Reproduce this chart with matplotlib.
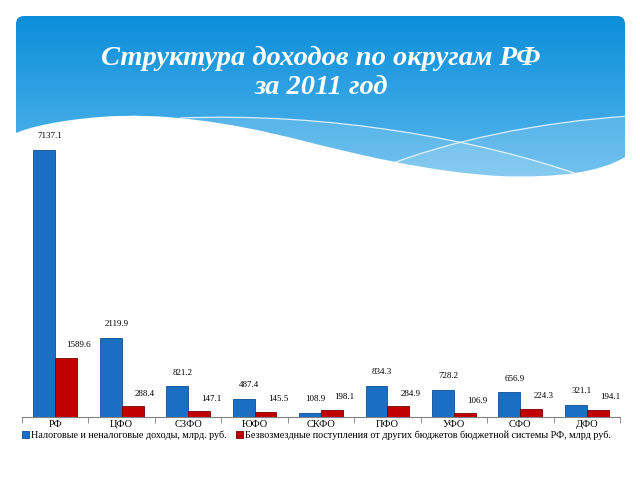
import numpy as np
import matplotlib
matplotlib.use('Agg')
import matplotlib.pyplot as plt
from matplotlib.path import Path
from matplotlib.patches import PathPatch

# data
districts = ['РФ', 'ЦФО', 'СЗФО', 'ЮФО', 'СКФО', 'ПФО', 'УФО', 'СФО', 'ДФО']
tax_income = [7137.1, 2119.9, 821.2, 487.4, 108.9, 834.3, 728.2, 656.9, 321.1]
transfers = [1589.6, 288.4, 147.1, 145.5, 198.1, 284.9, 106.9, 224.3, 194.1]
legend_labels = ['Налоговые и неналоговые доходы, млрд. руб.',
                 'Безвозмездные поступления от других бюджетов бюджетной системы РФ, млрд руб.']
title = 'Структура доходов по округам РФ\nза 2011 год'

W, H = 640, 480
fig = plt.figure(figsize=(6.4, 4.8), dpi=100)
fig.patch.set_facecolor('white')

# background layer in pixel coords (y down)
bg = fig.add_axes([0, 0, 1, 1], zorder=0)
bg.set_xlim(0, W)
bg.set_ylim(H, 0)
bg.axis('off')

# banner outline: rounded top, wavy bottom
verts = [(16, 133), (16, 24), (16, 16), (24, 16), (617, 16), (625, 16), (625, 24),
         (625, 157), (600, 172), (560, 178), (500, 176),
         (430, 172), (360, 155), (300, 140),
         (230, 122), (160, 112), (100, 117),
         (60, 120), (30, 127), (16, 133), (16, 133)]
codes = [Path.MOVETO, Path.LINETO, Path.CURVE3, Path.CURVE3, Path.LINETO, Path.CURVE3, Path.CURVE3,
         Path.LINETO, Path.CURVE4, Path.CURVE4, Path.CURVE4,
         Path.CURVE4, Path.CURVE4, Path.CURVE4,
         Path.CURVE4, Path.CURVE4, Path.CURVE4,
         Path.CURVE4, Path.CURVE4, Path.CURVE4, Path.CLOSEPOLY]
banner = PathPatch(Path(verts, codes), facecolor='none', edgecolor='none', transform=bg.transData)
bg.add_patch(banner)

top_c = np.array([0x0c, 0x8e, 0xda]) / 255
bot_c = np.array([0x5a, 0xb8, 0xed]) / 255
t = np.linspace(0, 1, 256)[:, None, None]
grad = top_c * (1 - t) + bot_c * t
grad = np.repeat(grad, 2, axis=1)
im = bg.imshow(grad, extent=[16, 625, 180, 16], aspect='auto', interpolation='bilinear', zorder=1)
im.set_clip_path(banner)

# lighter waves inside the banner
waveA = Path([(180, 118), (330, 112), (480, 140), (580, 175), (580, 220), (180, 220), (180, 118)],
             [Path.MOVETO, Path.CURVE4, Path.CURVE4, Path.CURVE4, Path.LINETO, Path.LINETO, Path.CLOSEPOLY])
waveB = Path([(380, 168), (450, 140), (540, 122), (630, 116), (630, 220), (380, 220), (380, 168)],
             [Path.MOVETO, Path.CURVE4, Path.CURVE4, Path.CURVE4, Path.LINETO, Path.LINETO, Path.CLOSEPOLY])
for wp in (waveA, waveB):
    p = PathPatch(wp, facecolor='white', alpha=0.15, edgecolor='none', zorder=2)
    bg.add_patch(p)
    p.set_clip_path(banner)
lineA = Path([(180, 118), (330, 112), (480, 140), (580, 175)],
             [Path.MOVETO, Path.CURVE4, Path.CURVE4, Path.CURVE4])
lineB = Path([(380, 168), (450, 140), (540, 122), (630, 116)],
             [Path.MOVETO, Path.CURVE4, Path.CURVE4, Path.CURVE4])
for lp in (lineA, lineB):
    p = PathPatch(lp, facecolor='none', edgecolor='white', lw=0.9, alpha=0.8, zorder=3)
    bg.add_patch(p)
    p.set_clip_path(banner)

bg.text(321, 73, title, ha='center', va='center', color='white', fontsize=20.5,
        family='Liberation Serif', style='italic', weight='bold', linespacing=1.25, zorder=4)

# chart
base_y, top_y, left_x, right_x = 417, 140, 22, 620
ax = fig.add_axes([left_x / W, (H - base_y) / H, (right_x - left_x) / W, (base_y - top_y) / H], zorder=1)
ax.patch.set_alpha(0)
px_per_unit = (base_y - 150) / max(tax_income)
ax.set_ylim(0, (base_y - top_y) / px_per_unit)
ax.set_xlim(-0.5, len(districts) - 0.5)

x = np.arange(len(districts))
w = 0.33
blue, red = '#1a6ec4', '#c00000'
ax.bar(x - w / 2, tax_income, w, color=blue, edgecolor='#0d4f96', lw=0.6, label=legend_labels[0])
ax.bar(x + w / 2, transfers, w, color=red, edgecolor='#7a0000', lw=0.6, label=legend_labels[1])

for xi, v in zip(x, tax_income):
    ax.annotate(f'{v:.1f}', (xi - w / 2, v), xytext=(4, 7), textcoords='offset points',
                ha='center', va='bottom', fontsize=6.5, family='Liberation Serif')
for xi, v in zip(x, transfers):
    ax.annotate(f'{v:.1f}', (xi + w / 2, v), xytext=(9, 6), textcoords='offset points',
                ha='center', va='bottom', fontsize=6.5, family='Liberation Serif')

for s in ['top', 'right', 'left']:
    ax.spines[s].set_visible(False)
ax.spines['bottom'].set_color('#808080')
ax.set_yticks([])
ax.set_xticks(x)
ax.set_xticklabels(districts, fontsize=7.5, family='Liberation Serif')
ax.tick_params(axis='x', length=0, pad=2)
ax.set_xticks(np.arange(-0.5, len(districts)), minor=True)
ax.tick_params(axis='x', which='minor', length=4, color='#808080', direction='out')

ax.legend(loc='upper left', bbox_to_anchor=(0, -0.048), ncol=2, frameon=False,
          prop={'family': 'Liberation Serif', 'size': 7.3}, handlelength=0.7, handleheight=0.7,
          handletextpad=0.2, columnspacing=0.9, borderaxespad=0, borderpad=0)

plt.savefig('out.png', dpi=100)
